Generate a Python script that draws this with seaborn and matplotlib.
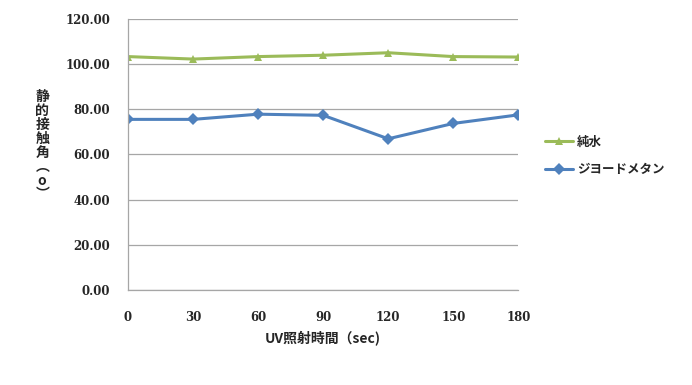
import matplotlib
matplotlib.use("Agg")
import matplotlib.pyplot as plt
import seaborn as sns
import pandas as pd

# data
uv_time = [0, 30, 60, 90, 120, 150, 180]
pure_water = [103.3, 102.2, 103.3, 103.9, 105.0, 103.3, 103.1]
diiodomethane = [75.5, 75.5, 77.8, 77.3, 66.9, 73.7, 77.5]
series_names = ["純水", "ジヨードメタン"]
y_ticks = [0, 20, 40, 60, 80, 100, 120]

df = pd.DataFrame({
    "time": uv_time * 2,
    "angle": pure_water + diiodomethane,
    "liquid": [series_names[0]] * len(uv_time) + [series_names[1]] * len(uv_time),
})

sns.set_theme(style="white")
plt.rcParams["font.family"] = ["Noto Sans CJK JP", "DejaVu Sans"]

fig = plt.figure(figsize=(6.92, 3.85), dpi=100)
ax = fig.add_axes([0.185, 0.247, 0.564, 0.704])

palette = {series_names[0]: "#9BBB59", series_names[1]: "#4F81BD"}
sns.lineplot(data=df, x="time", y="angle", hue="liquid", style="liquid",
             markers={series_names[0]: "^", series_names[1]: "D"}, dashes=False,
             palette=palette, linewidth=2.2, markersize=6, markeredgewidth=0,
             ax=ax, legend=True)

ax.set_xlim(0, 180)
ax.set_ylim(0, 120)
ax.set_xticks(uv_time)
ax.set_yticks(y_ticks)
ax.set_yticklabels([f"{v:.2f}" for v in y_ticks], fontsize=8.5, fontweight="bold",
                   family=["DejaVu Serif"])
ax.set_xticklabels([str(t) for t in uv_time], fontsize=8.5, fontweight="bold",
                   family=["DejaVu Serif"])
ax.grid(axis="y", color="#A6A6A6", linewidth=0.9)
ax.grid(axis="x", visible=False)
for side in ["top", "right"]:
    ax.spines[side].set_visible(False)
for side in ["left", "bottom"]:
    ax.spines[side].set_color("#A6A6A6")
    ax.spines[side].set_linewidth(0.9)
ax.tick_params(axis="both", which="major", direction="out", length=5, width=0.9,
               color="#A6A6A6", pad=8)
ax.tick_params(axis="x", pad=10)

ax.set_xlabel("UV照射時間（sec)", fontsize=10, fontweight="bold", labelpad=5)
ax.set_ylabel("")
fig.text(0.061, 0.622, "静\n的\n接\n触\n角\n︵\no\n︶", ha="center", va="center",
         fontsize=10, fontweight="bold", linespacing=1.0)

leg = ax.legend(loc="center left", bbox_to_anchor=(0.772, 0.595),
                bbox_transform=fig.transFigure, frameon=False, fontsize=9,
                handlelength=2.2, handletextpad=0.3, labelspacing=1.2)
for t in leg.get_texts():
    t.set_fontweight("bold")

fig.savefig("out.png", dpi=100)
